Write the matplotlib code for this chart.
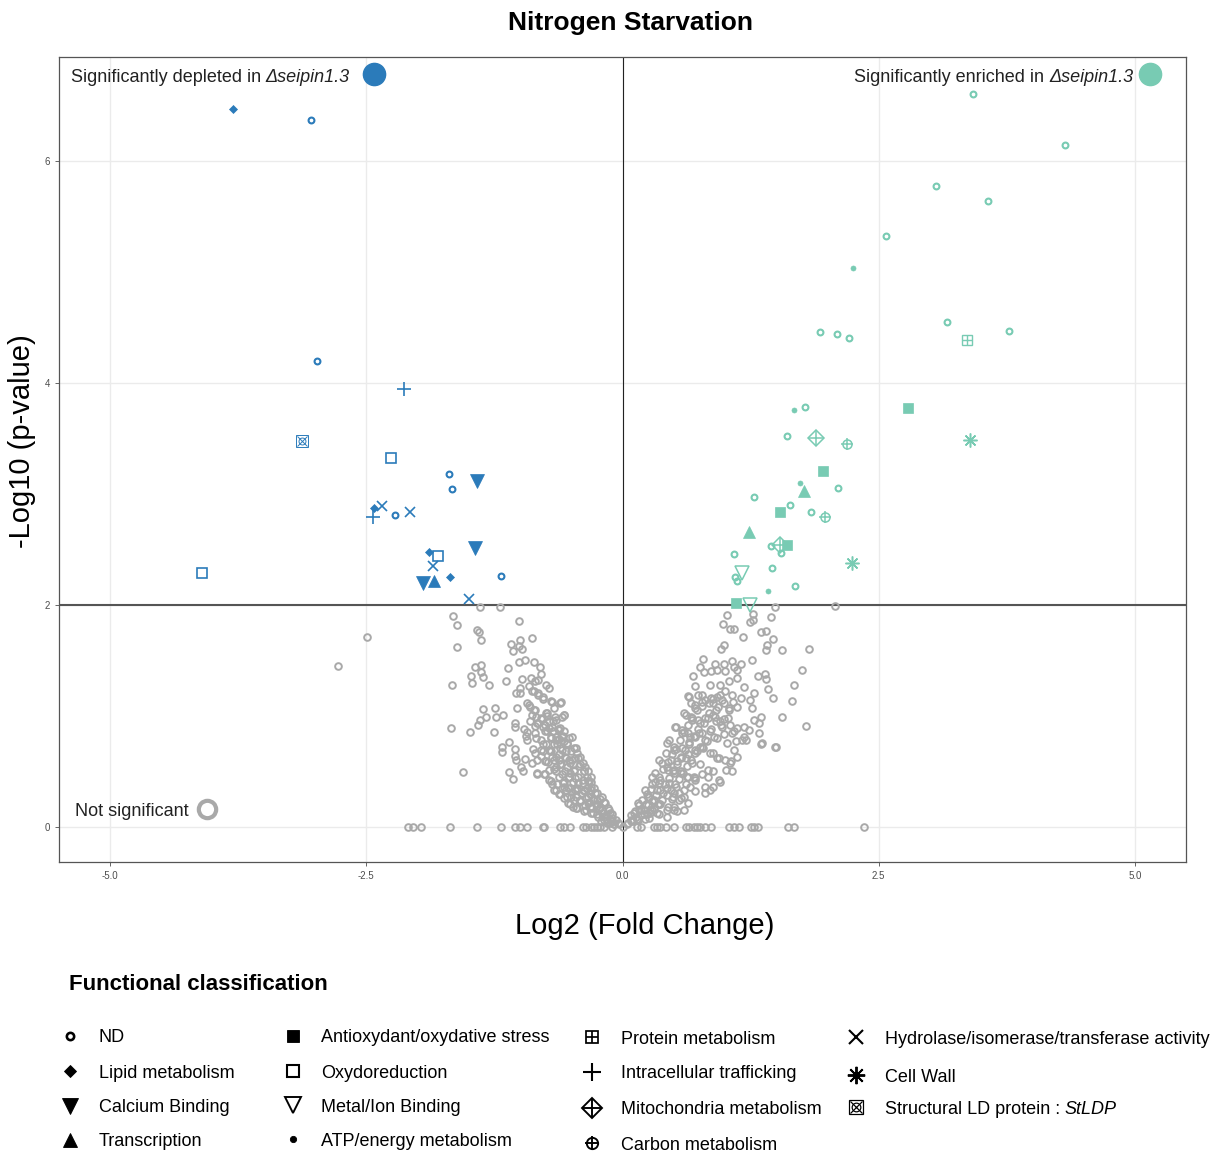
import matplotlib
matplotlib.use('Agg')
import matplotlib.pyplot as plt
from matplotlib.transforms import IdentityTransform

plt.rcParams['font.family'] = ['Liberation Sans', 'DejaVu Sans']

# colours
BLUE = '#2B7BBA'
TEAL = '#78CBB3'
GREY = '#A9A9A9'

# ---- non significant proteins (log2 FC, -log10 p) ----
ns_x = [
    -2.78, -2.49, -1.65, -1.62, -1.42, -1.40, -1.38, -1.62, -1.44, -1.38,
    -1.38, -1.48, -1.36, -1.47, -1.66, -1.30, -1.36, -1.24, -1.39, -1.20,
    -1.01, -0.88, -1.09, -1.07, -1.00, -1.01, -0.98, -1.12, -1.01, -0.95,
    -0.86, -0.81, -0.80, -0.98, -0.89, -0.85, -1.14, -1.04, -1.00, -0.91,
    -0.86, -0.82, -0.75, -0.72, -0.82, -0.78, -0.69, -0.60, -0.93, -0.90,
    -1.03, -0.86, -1.33, -1.23, -1.17, -1.39, -1.41, -1.67, -1.49, -1.25,
    -1.05, -1.05, -0.93, -0.94, -0.85, -0.84, -0.79, -0.75, -0.66, -0.57,
    -0.59, -0.76, -0.72, -0.68, -0.61, -0.57, -0.49, -0.65, -0.62, -0.57,
    -1.18, -1.18, -1.11, -1.05, -1.05, -1.04, -0.95, -0.88, -0.99, -1.11,
    -1.56, -1.07, -0.97, -0.83, -0.76, -0.85, -0.80, -0.72, -0.69, -0.76,
    -0.65, -0.62, -0.55, -0.52, -0.45, -0.41, -0.39, -0.37, -0.34, -0.31,
    -0.72, -0.69, -0.65, -0.62, -0.57, -0.53, -0.48, -0.45, -0.41, -0.38,
    -0.34, -0.31, -0.27, -0.25, -0.22, -0.20, -0.17, -0.13, -0.10, -0.06,
    -0.04, -0.03, -0.58, -0.52, -0.55, -0.46, -0.43, -0.50, -0.36, -0.32,
    -0.29, -0.24, -0.18, -0.15, -0.11, -0.08,
    -1.00, -0.88, -0.82, -0.78, -0.70, -0.61, -0.67, -0.74, -0.85, -0.91,
    -0.88, -0.80, -0.72, -0.65, -0.57, -0.83, -0.78, -0.69, -0.62, -0.74,
    -0.85, -0.80, -0.70, -0.65, -0.59, -0.52, -0.75, -0.67, -0.61, -0.54,
    -0.47, -0.44, -0.70, -0.62, -0.56, -0.49, -0.43, -0.78, -0.83, -0.75,
    -0.67, -0.61, -0.54, -0.47, -0.41, -0.38, -0.72, -0.65, -0.59, -0.52,
    -0.46, -0.39, -0.33, -0.83, -0.77, -0.70, -0.64, -0.57, -0.51, -0.44,
    -0.38, -0.31, -0.67, -0.61, -0.54, -0.47, -0.41, -0.34, -0.28, -0.25,
    -0.51, -0.44, -0.38, -0.31, -0.25, -0.18, -0.31, -0.20, -0.15, -0.12,
    -0.08, -0.51, -0.34, -0.21,
    -0.10, -0.12, -0.14, -0.16, -0.18, -0.20, -0.22, -0.23, -0.25, -0.26,
    -0.28, -0.29, -0.30, -0.31, -0.32, -0.33, -0.35, -0.35, -0.36, -0.37,
    -0.38, -0.39, -0.40, -0.41, -0.42, -0.43, -0.44, -0.45, -0.46, -0.47,
    -0.48, -0.49, -0.50, -0.51, -0.52, -0.53, -0.54, -0.55, -0.56, -0.57,
    -0.58, -0.59, -0.60, -0.62, -0.63, -0.64, -0.65, -0.67, -0.68, -0.70,
    -0.71, -0.73, -0.74, -0.76, -0.78, -0.80, -0.82, -0.84, -0.87, -0.90,
    -0.93, -0.96,
    1.49, 2.07, 1.27, 1.45, 1.02, 0.98, 1.05, 1.09, 1.24, 1.27,
    1.18, 1.35, 1.40, 1.47, 1.41, 1.40, 1.56, 1.82, 0.99, 0.96,
    0.79, 0.90, 0.99, 1.07, 1.09, 1.16, 1.26, 0.76, 0.80, 0.86,
    0.92, 1.00, 1.12, 1.32, 1.39, 1.40, 1.75, 0.69, 0.71, 0.85,
    0.95, 1.04, 1.12, 1.19, 0.95, 1.07, 1.16, 1.24, 1.28, 1.42,
    1.47, 1.67, 1.65, 0.64, 0.74, 0.81, 0.86, 0.92, 0.67, 0.71,
    0.78, 0.88, 0.99, 1.04, 1.12, 1.26, 1.28, 1.35, 1.56, 1.79,
    0.60, 0.67, 0.74, 0.81, 0.88, 0.95, 0.99, 1.05, 1.12, 1.19,
    0.51, 0.58, 0.64, 0.71, 0.78, 0.85, 0.92, 0.99, 1.09, 1.19,
    1.33, 1.35, 1.50, 1.02, 1.11, 1.21, 1.09, 1.00, 1.05, 1.07,
    0.95, 0.88, 0.81, 0.83, 0.43, 0.50, 0.57, 0.64, 0.71, 0.78,
    0.85, 0.92, 0.36, 0.43, 0.50, 0.57, 0.64, 0.71, 0.78, 0.85,
    0.71, 0.60, 0.29, 0.36, 0.43, 0.50, 0.57, 0.64, 0.22, 0.25,
    0.31, 0.36, 0.43, 0.50, 0.15, 0.18, 0.24, 0.11, 0.15, 0.08,
    0.04, 0.29, 0.36, 0.43, 0.53, 0.60,
    0.65, 0.71, 0.78, 0.84, 0.91, 0.97, 1.04, 0.62, 0.68, 0.76,
    0.83, 0.91, 0.97, 0.52, 0.58, 0.66, 0.75, 0.81, 0.89, 0.45,
    0.50, 0.58, 0.65, 0.73, 0.79, 0.88, 0.94, 0.42, 0.47, 0.53,
    0.62, 0.68, 0.76, 0.83, 0.39, 0.44, 0.50, 0.57, 0.63, 0.71,
    0.32, 0.37, 0.45, 0.52, 0.60, 0.66, 0.29, 0.34, 0.40, 0.49,
    0.55, 0.26, 0.31, 0.37, 0.44, 0.50, 0.23, 0.27, 0.34, 0.16,
    0.21, 0.26, 0.13, 0.08, 0.05, 1.06, 1.12, 1.01, 0.94, 0.88,
    0.81, 1.17, 1.23, 1.33, 1.07, 1.36, 1.49,
    0.08, 0.10, 0.12, 0.14, 0.16, 0.18, 0.19, 0.21, 0.22, 0.24,
    0.25, 0.27, 0.28, 0.29, 0.31, 0.32, 0.33, 0.35, 0.36, 0.37,
    0.39, 0.40, 0.41, 0.43, 0.44, 0.45, 0.47, 0.48, 0.49, 0.51,
    0.52, 0.53, 0.55, 0.56, 0.57, 0.59, 0.60, 0.61, 0.63, 0.64,
    0.65, 0.67, 0.68, 0.70, 0.71, 0.73, 0.74, 0.76, 0.78, 0.80,
    0.82, 0.84, 0.86, 0.88, 0.90, 0.93, 0.96, 1.00, 1.03, 1.08,
    0.55, 0.62, 0.48, 0.70,
    -2.09, -2.04, -1.97, -1.68, -1.42, -1.19, -1.05, -1.00, -0.93, -0.78,
    -0.77, -0.61, -0.57, -0.51, -0.39, -0.36, -0.31, -0.28, -0.25, -0.22,
    -0.18, -0.10, 0.14, 0.18, 0.31, 0.34, 0.37, 0.42, 0.50, 0.62,
    0.65, 0.70, 0.73, 0.76, 0.81, 0.86, 1.04, 1.09, 1.14, 1.25,
    1.28, 1.32, 1.62, 1.67, 2.36, 0.00,
]
ns_y = [
    1.45, 1.71, 1.90, 1.82, 1.77, 1.75, 1.68, 1.62, 1.44, 1.46,
    1.39, 1.36, 1.35, 1.29, 1.28, 1.28, 1.06, 1.07, 1.98, 1.98,
    1.85, 1.70, 1.65, 1.58, 1.68, 1.63, 1.60, 1.43, 1.48, 1.50,
    1.48, 1.44, 1.38, 1.33, 1.34, 1.31, 1.31, 1.20, 1.25, 1.27,
    1.22, 1.32, 1.28, 1.25, 1.19, 1.15, 1.12, 1.12, 1.11, 1.08,
    1.07, 1.05, 0.99, 0.99, 1.01, 0.96, 0.92, 0.89, 0.85, 0.85,
    0.93, 0.90, 0.85, 0.82, 0.91, 0.99, 0.97, 1.02, 0.99, 1.01,
    0.99, 0.92, 0.89, 0.86, 0.89, 0.86, 0.81, 0.81, 0.79, 0.77,
    0.72, 0.67, 0.76, 0.70, 0.64, 0.60, 0.61, 0.57, 0.54, 0.49,
    0.49, 0.43, 0.50, 0.47, 0.47, 0.66, 0.69, 0.69, 0.63, 0.59,
    0.54, 0.60, 0.68, 0.60, 0.71, 0.63, 0.57, 0.54, 0.50, 0.45,
    0.42, 0.38, 0.33, 0.29, 0.26, 0.21, 0.18, 0.17, 0.24, 0.33,
    0.41, 0.36, 0.30, 0.24, 0.18, 0.27, 0.21, 0.15, 0.11, 0.06,
    0.03, 0.02, 0.39, 0.45, 0.33, 0.33, 0.39, 0.27, 0.15, 0.18,
    0.12, 0.09, 0.06, 0.03, 0.05, 0.02,
    1.20, 1.22, 1.20, 1.17, 1.13, 1.11, 1.07, 1.02, 1.05, 1.10,
    1.01, 0.98, 0.95, 0.96, 1.01, 0.93, 0.90, 0.90, 0.87, 0.86,
    0.84, 0.78, 0.81, 0.78, 0.81, 0.80, 0.74, 0.74, 0.71, 0.74,
    0.71, 0.66, 0.68, 0.65, 0.63, 0.60, 0.62, 0.68, 0.60, 0.59,
    0.60, 0.56, 0.54, 0.51, 0.56, 0.50, 0.51, 0.50, 0.47, 0.45,
    0.44, 0.42, 0.41, 0.48, 0.47, 0.41, 0.38, 0.36, 0.35, 0.33,
    0.32, 0.33, 0.33, 0.29, 0.27, 0.24, 0.23, 0.21, 0.24, 0.20,
    0.20, 0.17, 0.14, 0.12, 0.11, 0.09, 0.18, 0.15, 0.06, 0.03,
    0.02, 0.48, 0.27, 0.05,
    0.08, 0.12, 0.17, 0.10, 0.22, 0.12, 0.25, 0.16, 0.30, 0.20,
    0.35, 0.24, 0.17, 0.40, 0.29, 0.22, 0.45, 0.35, 0.26, 0.19,
    0.50, 0.39, 0.30, 0.23, 0.55, 0.45, 0.35, 0.27, 0.62, 0.50,
    0.40, 0.31, 0.68, 0.57, 0.45, 0.35, 0.75, 0.62, 0.50, 0.40,
    0.82, 0.69, 0.56, 0.45, 0.88, 0.74, 0.63, 0.52, 0.95, 0.80,
    0.68, 0.58, 1.00, 0.86, 0.74, 0.64, 0.93, 0.80, 0.70, 0.95,
    0.78, 0.88,
    1.98, 1.99, 1.92, 1.89, 1.91, 1.83, 1.78, 1.78, 1.84, 1.86,
    1.71, 1.75, 1.76, 1.69, 1.64, 1.59, 1.59, 1.60, 1.64, 1.60,
    1.51, 1.47, 1.47, 1.49, 1.44, 1.47, 1.50, 1.44, 1.39, 1.40,
    1.41, 1.40, 1.41, 1.36, 1.38, 1.33, 1.41, 1.36, 1.27, 1.28,
    1.28, 1.31, 1.34, 1.26, 1.19, 1.19, 1.16, 1.14, 1.20, 1.24,
    1.16, 1.28, 1.13, 1.18, 1.19, 1.14, 1.16, 1.17, 1.11, 1.07,
    1.09, 1.11, 1.11, 1.05, 1.08, 1.07, 0.96, 0.99, 0.99, 0.91,
    1.02, 0.99, 0.96, 0.98, 1.01, 0.95, 0.97, 0.92, 0.89, 0.90,
    0.90, 0.87, 0.84, 0.81, 0.84, 0.86, 0.80, 0.83, 0.86, 0.81,
    0.84, 0.74, 0.72, 0.75, 0.77, 0.78, 0.69, 0.60, 0.57, 0.50,
    0.40, 0.50, 0.36, 0.45, 0.75, 0.69, 0.63, 0.65, 0.69, 0.72,
    0.66, 0.62, 0.60, 0.54, 0.51, 0.48, 0.45, 0.42, 0.47, 0.33,
    0.32, 0.27, 0.45, 0.39, 0.35, 0.30, 0.26, 0.21, 0.33, 0.27,
    0.24, 0.20, 0.15, 0.18, 0.21, 0.15, 0.11, 0.12, 0.06, 0.05,
    0.02, 0.15, 0.11, 0.09, 0.14, 0.15,
    1.17, 1.10, 1.19, 1.11, 1.05, 1.14, 1.07, 1.01, 0.96, 0.93,
    0.98, 0.95, 0.90, 0.90, 0.84, 0.81, 0.84, 0.78, 0.81, 0.78,
    0.72, 0.71, 0.74, 0.68, 0.71, 0.66, 0.62, 0.66, 0.60, 0.59,
    0.62, 0.57, 0.56, 0.51, 0.57, 0.51, 0.48, 0.50, 0.45, 0.44,
    0.48, 0.42, 0.39, 0.36, 0.33, 0.36, 0.38, 0.33, 0.30, 0.27,
    0.24, 0.27, 0.23, 0.20, 0.18, 0.15, 0.20, 0.15, 0.12, 0.15,
    0.11, 0.08, 0.09, 0.06, 0.03, 0.59, 0.63, 0.51, 0.42, 0.36,
    0.30, 0.78, 0.87, 0.93, 0.84, 0.75, 0.72,
    0.10, 0.05, 0.14, 0.07, 0.19, 0.10, 0.24, 0.15, 0.07, 0.29,
    0.19, 0.12, 0.34, 0.23, 0.16, 0.40, 0.28, 0.20, 0.45, 0.33,
    0.24, 0.52, 0.38, 0.28, 0.58, 0.44, 0.33, 0.65, 0.50, 0.38,
    0.70, 0.56, 0.43, 0.78, 0.62, 0.48, 0.85, 0.69, 0.55, 0.92,
    0.76, 0.60, 0.98, 0.82, 0.66, 1.05, 0.88, 0.72, 1.12, 0.93,
    0.77, 1.02, 0.88, 1.15, 0.99, 1.08, 0.92, 1.22, 0.98, 1.12,
    0.30, 0.38, 0.25, 0.45,
    0.00, 0.00, 0.00, 0.00, 0.00, 0.00, 0.00, 0.00, 0.00, 0.00,
    0.00, 0.00, 0.00, 0.00, 0.00, 0.00, 0.00, 0.00, 0.00, 0.00,
    0.00, 0.00, 0.00, 0.00, 0.00, 0.00, 0.00, 0.00, 0.00, 0.00,
    0.00, 0.00, 0.00, 0.00, 0.00, 0.00, 0.00, 0.00, 0.00, 0.00,
    0.00, 0.00, 0.00, 0.00, 0.00, 0.00,
]

# ---- significantly depleted ----
dep_x = [-3.80, -3.04, -2.98, -2.13, -3.13, -2.26, -1.69, -1.42, -1.66, -2.43,
         -2.35, -2.44, -2.22, -2.07, -1.44, -1.89, -1.80, -1.85, -1.68, -1.19,
         -1.95, -1.84, -4.10, -1.50]
dep_y = [6.47, 6.37, 4.20, 3.95, 3.48, 3.32, 3.18, 3.12, 3.04, 2.87,
         2.89, 2.79, 2.81, 2.84, 2.51, 2.48, 2.44, 2.35, 2.25, 2.26,
         2.20, 2.21, 2.29, 2.05]
dep_cls = ['Lipid', 'ND', 'ND', 'Traffic', 'LD', 'Oxydo', 'ND', 'Calcium', 'ND', 'Lipid',
           'Hydrolase', 'Traffic', 'ND', 'Hydrolase', 'Calcium', 'Lipid', 'Oxydo', 'Hydrolase', 'Lipid', 'ND',
           'Calcium', 'Transcription', 'Oxydo', 'Hydrolase']

# ---- significantly enriched ----
enr_x = [3.42, 4.32, 3.06, 3.57, 2.57, 2.25, 1.93, 2.09, 2.21, 3.17,
         3.36, 3.77, 1.67, 1.78, 2.79, 1.61, 1.89, 2.19, 3.39, 1.96,
         1.73, 1.77, 2.10, 1.28, 1.63, 1.54, 1.84, 1.98, 1.23, 1.45,
         1.54, 1.61, 1.55, 1.09, 2.24, 1.46, 1.17, 1.10, 1.12, 1.68,
         1.42, 1.11, 1.24]
enr_y = [6.61, 6.15, 5.78, 5.64, 5.33, 5.04, 4.46, 4.44, 4.41, 4.55,
         4.39, 4.47, 3.76, 3.78, 3.77, 3.52, 3.50, 3.45, 3.49, 3.21,
         3.10, 3.03, 3.05, 2.97, 2.90, 2.84, 2.84, 2.79, 2.66, 2.53,
         2.54, 2.54, 2.47, 2.46, 2.38, 2.33, 2.29, 2.25, 2.21, 2.17,
         2.12, 2.02, 2.00]
enr_cls = ['ND', 'ND', 'ND', 'ND', 'ND', 'ATP', 'ND', 'ND', 'ND', 'ND',
           'Protein', 'ND', 'ATP', 'ND', 'Antiox', 'ND', 'Mito', 'Carbon', 'CellWall', 'Antiox',
           'ATP', 'Transcription', 'ND', 'ND', 'ND', 'Antiox', 'ND', 'Carbon', 'Transcription', 'ND',
           'Mito', 'Antiox', 'ND', 'ND', 'CellWall', 'ND', 'Metal', 'ND', 'ND', 'ND',
           'ATP', 'Antiox', 'Metal']

# legend entries (column by column); each label is a list of (text, italic)
legend_cols = [
    [('ND', [('ND', False)]), ('Lipid', [('Lipid metabolism', False)]),
     ('Calcium', [('Calcium Binding', False)]), ('Transcription', [('Transcription', False)])],
    [('Antiox', [('Antioxydant/oxydative stress', False)]), ('Oxydo', [('Oxydoreduction', False)]),
     ('Metal', [('Metal/Ion Binding', False)]), ('ATP', [('ATP/energy metabolism', False)])],
    [('Protein', [('Protein metabolism', False)]), ('Traffic', [('Intracellular trafficking', False)]),
     ('Mito', [('Mitochondria metabolism', False)]), ('Carbon', [('Carbon metabolism', False)])],
    [('Hydrolase', [('Hydrolase/isomerase/transferase activity', False)]),
     ('CellWall', [('Cell Wall', False)]),
     ('LD', [('Structural LD protein :', False), ('StLDP', True)])],
]

# marker layers for each class: (marker, filled, markersize, edge width)
STYLES = {
    'ND': [('o', False, 4.2, 1.5)],
    'Lipid': [('D', True, 4.5, 0.5)],
    'Calcium': [('v', True, 9.5, 0.5)],
    'Transcription': [('^', True, 8.0, 0.5)],
    'Antiox': [('s', True, 6.5, 0.5)],
    'Oxydo': [('s', False, 7.0, 1.2)],
    'Metal': [('v', False, 9.5, 1.1)],
    'ATP': [('o', True, 3.6, 0.5)],
    'Protein': [('s', False, 7.0, 1.0), ('+', False, 7.0, 1.0)],
    'Traffic': [('+', False, 10.0, 1.2)],
    'Mito': [('D', False, 8.0, 1.1), ('+', False, 11.0, 1.1)],
    'Carbon': [('o', False, 6.5, 1.1), ('+', False, 8.0, 1.1)],
    'Hydrolase': [('x', False, 7.5, 1.2)],
    'CellWall': [((8, 2, 0), False, 10.0, 1.1)],
    'LD': [('s', False, 8.5, 0.7), ('x', False, 7.0, 0.7), ('o', False, 5.0, 0.7)],
}


def draw_marker(axis, xs, ys, cls, color, scale=1.0, **kw):
    for mk, filled, ms, mew in STYLES[cls]:
        axis.plot(xs, ys, linestyle='none', marker=mk, markersize=ms * scale,
                  markeredgewidth=mew * scale,
                  markerfacecolor=color if filled else 'none',
                  markeredgecolor=color, **kw)


def rich_text(axis, x, y, parts, ha='left', gap=4.5, **kw):
    # write text pieces side by side, some of them italic
    renderer = fig.canvas.get_renderer()
    x0, y0 = axis.transData.transform((x, y))
    seq = parts if ha == 'left' else parts[::-1]
    cur = x0
    for txt, it in seq:
        t = axis.text(cur, y0, txt, transform=IdentityTransform(), ha=ha,
                      va='center_baseline', style='italic' if it else 'normal', **kw)
        ext = t.get_window_extent(renderer)
        cur = ext.x1 + gap if ha == 'left' else ext.x0 - gap


fig = plt.figure(figsize=(12.21, 11.53), dpi=100)
ax = fig.add_axes([59 / 1221, 1 - 862 / 1153, 1127 / 1221, 805 / 1153])

ax.set_xlim(-5.5, 5.5)
ax.set_ylim(-0.32, 6.94)
ax.set_xticks([-5.0, -2.5, 0.0, 2.5, 5.0])
ax.set_xticklabels(['-5.0', '-2.5', '0.0', '2.5', '5.0'])
ax.set_yticks([0, 2, 4, 6])
ax.tick_params(labelsize=7, colors='#4D4D4D', length=3, width=0.6)
ax.grid(True, color='#EBEBEB', linewidth=1.0)
ax.set_axisbelow(True)
for sp in ax.spines.values():
    sp.set_color('#555555')
    sp.set_linewidth(0.9)

ax.axvline(0, color='#222222', linewidth=0.8, zorder=1)
ax.axhline(2, color='#555555', linewidth=1.5, zorder=1)

# non significant
ax.plot(ns_x, ns_y, linestyle='none', marker='o', markersize=4.8,
        markerfacecolor='none', markeredgecolor=GREY, markeredgewidth=1.4, zorder=2)

# significant points per class
for xs_all, ys_all, cl_all, col in [(dep_x, dep_y, dep_cls, BLUE), (enr_x, enr_y, enr_cls, TEAL)]:
    for cls in STYLES:
        xs = [x for x, c in zip(xs_all, cl_all) if c == cls]
        ys = [y for y, c in zip(ys_all, cl_all) if c == cls]
        if xs:
            draw_marker(ax, xs, ys, cls, col, zorder=3)

# titles
fig.text(630 / 1221, 1 - 23 / 1153, 'Nitrogen Starvation', fontsize=19,
         fontweight='bold', ha='center', va='center')
fig.text(645 / 1221, 1 - 926 / 1153, 'Log2 (Fold Change)', fontsize=21,
         ha='center', va='center')
fig.text(22 / 1221, 1 - 441 / 1153, '-Log10 (p-value)', fontsize=21,
         rotation=90, ha='center', va='center')

# overlay in pixel space (top-left origin) for annotations and the legend
lax = fig.add_axes([0, 0, 1, 1], zorder=5)
lax.set_xlim(0, 1221)
lax.set_ylim(1153, 0)
lax.axis('off')

rich_text(lax, 71, 75, [('Significantly depleted in', False), ('\u0394seipin1.3', True)],
          ha='left', fontsize=13, color='#222222')
lax.plot([374], [74], 'o', markersize=16, color=BLUE)
rich_text(lax, 1133, 75, [('Significantly enriched in', False), ('\u0394seipin1.3', True)],
          ha='right', fontsize=13, color='#222222')
lax.plot([1150], [74], 'o', markersize=16, color=TEAL)
rich_text(lax, 75, 810, [('Not significant', False)], ha='left', fontsize=13, color='#222222')
lax.plot([207], [809], 'o', markersize=12.5, markerfacecolor='none',
         markeredgecolor=GREY, markeredgewidth=3)

lax.text(69, 985, 'Functional classification', fontsize=16, fontweight='bold',
         va='center', ha='left')

col_marker_x = [70, 293, 592, 856]
col_text_x = [99, 321, 621, 885]
col_rows = [[1036, 1071, 1106, 1140], [1036, 1071, 1105, 1139],
            [1037, 1072, 1108, 1143], [1037, 1075, 1107]]
for ci, entries in enumerate(legend_cols):
    for ri, (cls, label) in enumerate(entries):
        yy = col_rows[ci][ri]
        draw_marker(lax, [col_marker_x[ci]], [yy], cls, 'black', scale=1.25)
        rich_text(lax, col_text_x[ci], yy, label, ha='left', fontsize=13)

fig.savefig('out.png', dpi=100)
